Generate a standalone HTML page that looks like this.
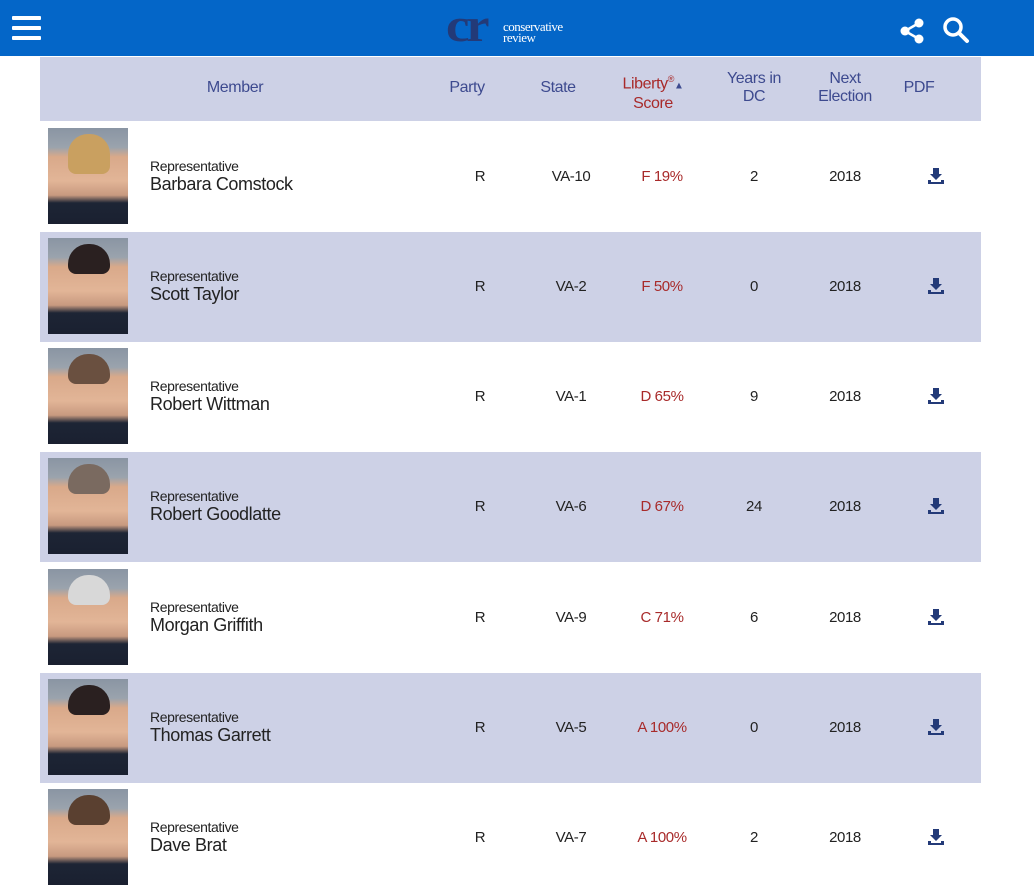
<!DOCTYPE html>
<html><head><meta charset="utf-8"><style>
*{margin:0;padding:0;box-sizing:border-box}
body{width:1034px;height:895px;background:#fff;font-family:"Liberation Sans",sans-serif;position:relative;overflow:hidden;letter-spacing:-0.4px}
.top{position:absolute;left:0;top:0;width:1034px;height:56px;background:#0466c8}
.hdr{position:absolute;left:40px;top:57px;width:941px;height:64px;background:#cdd1e6}
.h{position:absolute;color:#3d4a8f;font-size:16px;text-align:center;line-height:18px;transform:translateX(-50%)}
.row{position:absolute;left:40px;width:941px;height:110px}
.sh{background:#cdd1e6}
.ph{position:absolute;left:8px;top:6px;width:80px;height:96px;background:linear-gradient(180deg,#8a95a3 0%,#9aa3ad 20%,#d9a98a 30%,#e2b597 55%,#c89a80 70%,#1d2535 78%,#1a2030 100%)}
.ph i{position:absolute;left:20px;top:6px;width:42px;height:30px;border-radius:20px 20px 8px 8px;background:#5a4030}
.t{position:absolute;font-size:14px;color:#222;line-height:15px}
.n{font-size:18px;line-height:20px}
.c{position:absolute;top:46px;font-size:15px;color:#222;transform:translateX(-50%)}
.r{color:#a82a2a}
.dl{position:absolute;left:888px;top:46px;width:16px;height:16px}
</style></head><body>
<div class="top">
<svg style="position:absolute;left:12px;top:14px" width="30" height="28"><rect y="2" width="29" height="4" rx="1" fill="#fff"/><rect y="12" width="29" height="4" rx="1" fill="#fff"/><rect y="22" width="29" height="4" rx="1" fill="#fff"/></svg>
<div style="position:absolute;left:446px;top:2px;font:bold 48px 'Liberation Serif',serif;color:#233a78;letter-spacing:-3px;line-height:48px;transform:scaleX(1.1);transform-origin:left">cr</div>
<div style="position:absolute;left:503px;top:21px;font:13px 'Liberation Serif',serif;color:#fff;line-height:11px;letter-spacing:-0.5px">conservative<br>review</div>
<svg style="position:absolute;left:900px;top:18px" width="26" height="26"><circle cx="19" cy="5" r="4.5" fill="#fff"/><circle cx="5" cy="13" r="4.5" fill="#fff"/><circle cx="19" cy="21" r="4.5" fill="#fff"/><path d="M5 13L19 5M5 13L19 21" stroke="#fff" stroke-width="2.5"/></svg>
<svg style="position:absolute;left:942px;top:16px" width="28" height="28"><circle cx="11" cy="11" r="8" stroke="#fff" stroke-width="3.5" fill="none"/><path d="M17 17L25 25" stroke="#fff" stroke-width="4" stroke-linecap="round"/></svg>
</div>
<div class="hdr"></div>
<div class="h" style="left:235px;top:79px">Member</div>
<div class="h" style="left:467px;top:79px">Party</div>
<div class="h" style="left:558px;top:79px">State</div>
<div class="h" style="left:653px;top:70px;color:#a82a2a">Liberty<sup style="font-size:9px">®</sup><span style="color:#3d4a8f;font-size:10px">▲</span><br>Score</div>
<div class="h" style="left:754px;top:70px">Years in<br>DC</div>
<div class="h" style="left:845px;top:70px">Next<br>Election</div>
<div class="h" style="left:919px;top:79px">PDF</div>

<div class="row" style="top:122px"><div class="ph"><i style="background:#c9a060;height:40px"></i></div><div class="t" style="left:110px;top:37px">Representative<br><span class="n">Barbara Comstock</span></div><div class="c" style="left:440px">R</div><div class="c" style="left:531px">VA-10</div><div class="c r" style="left:622px">F 19%</div><div class="c" style="left:714px">2</div><div class="c" style="left:805px">2018</div><svg class="dl"><path d="M5 0h6v6h3l-6 6-6-6h3z M0 12h3v2h10v-2h3v4H0z" fill="#233a78"/></svg></div>
<div class="row sh" style="top:232px"><div class="ph"><i style="background:#2a2020"></i></div><div class="t" style="left:110px;top:37px">Representative<br><span class="n">Scott Taylor</span></div><div class="c" style="left:440px">R</div><div class="c" style="left:531px">VA-2</div><div class="c r" style="left:622px">F 50%</div><div class="c" style="left:714px">0</div><div class="c" style="left:805px">2018</div><svg class="dl"><path d="M5 0h6v6h3l-6 6-6-6h3z M0 12h3v2h10v-2h3v4H0z" fill="#233a78"/></svg></div>
<div class="row" style="top:342px"><div class="ph"><i style="background:#6a5040"></i></div><div class="t" style="left:110px;top:37px">Representative<br><span class="n">Robert Wittman</span></div><div class="c" style="left:440px">R</div><div class="c" style="left:531px">VA-1</div><div class="c r" style="left:622px">D 65%</div><div class="c" style="left:714px">9</div><div class="c" style="left:805px">2018</div><svg class="dl"><path d="M5 0h6v6h3l-6 6-6-6h3z M0 12h3v2h10v-2h3v4H0z" fill="#233a78"/></svg></div>
<div class="row sh" style="top:452px"><div class="ph"><i style="background:#7a6a60"></i></div><div class="t" style="left:110px;top:37px">Representative<br><span class="n">Robert Goodlatte</span></div><div class="c" style="left:440px">R</div><div class="c" style="left:531px">VA-6</div><div class="c r" style="left:622px">D 67%</div><div class="c" style="left:714px">24</div><div class="c" style="left:805px">2018</div><svg class="dl"><path d="M5 0h6v6h3l-6 6-6-6h3z M0 12h3v2h10v-2h3v4H0z" fill="#233a78"/></svg></div>
<div class="row" style="top:563px"><div class="ph"><i style="background:#d8d8d8"></i></div><div class="t" style="left:110px;top:37px">Representative<br><span class="n">Morgan Griffith</span></div><div class="c" style="left:440px">R</div><div class="c" style="left:531px">VA-9</div><div class="c r" style="left:622px">C 71%</div><div class="c" style="left:714px">6</div><div class="c" style="left:805px">2018</div><svg class="dl"><path d="M5 0h6v6h3l-6 6-6-6h3z M0 12h3v2h10v-2h3v4H0z" fill="#233a78"/></svg></div>
<div class="row sh" style="top:673px"><div class="ph"><i style="background:#2a2020"></i></div><div class="t" style="left:110px;top:37px">Representative<br><span class="n">Thomas Garrett</span></div><div class="c" style="left:440px">R</div><div class="c" style="left:531px">VA-5</div><div class="c r" style="left:622px">A 100%</div><div class="c" style="left:714px">0</div><div class="c" style="left:805px">2018</div><svg class="dl"><path d="M5 0h6v6h3l-6 6-6-6h3z M0 12h3v2h10v-2h3v4H0z" fill="#233a78"/></svg></div>
<div class="row" style="top:783px"><div class="ph"><i style="background:#5a4030"></i></div><div class="t" style="left:110px;top:37px">Representative<br><span class="n">Dave Brat</span></div><div class="c" style="left:440px">R</div><div class="c" style="left:531px">VA-7</div><div class="c r" style="left:622px">A 100%</div><div class="c" style="left:714px">2</div><div class="c" style="left:805px">2018</div><svg class="dl"><path d="M5 0h6v6h3l-6 6-6-6h3z M0 12h3v2h10v-2h3v4H0z" fill="#233a78"/></svg></div>
</body></html>
